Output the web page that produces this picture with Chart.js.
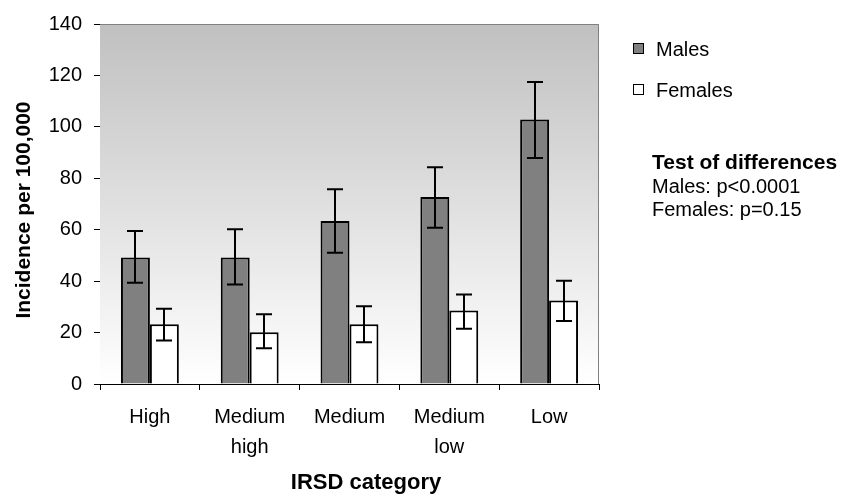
<!DOCTYPE html>
<html>
<head>
<meta charset="utf-8">
<script src="https://cdn.jsdelivr.net/npm/chart.js@4/dist/chart.umd.min.js"></script>
<style>
  body { margin: 0; background: #fff; font-family: "Liberation Sans", Arial, sans-serif; }
  #wrap { position: relative; width: 841px; height: 498px; }
  .txt { position: absolute; color: #000; white-space: nowrap; font-size: 20px; line-height: 24px; }
  .bold { font-weight: bold; font-size: 21px; }
  .sq { position: absolute; width: 9px; height: 9px; border: 1.5px solid #000; }
</style>
</head>
<body>
<div id="wrap">
  <canvas id="chart" width="841" height="498"></canvas>

  <div class="txt bold" style="left:-127px; top:198px; width:300px; text-align:center; transform:rotate(-90deg);">Incidence per 100,000</div>
  <div class="txt bold" style="left:216px; top:470px; width:300px; text-align:center; font-size:22px;">IRSD category</div>

  <div class="sq" style="left:633px; top:43px; background:#808080;"></div>
  <div class="txt" style="left:656px; top:37px;">Males</div>
  <div class="sq" style="left:633px; top:84px; background:#fff;"></div>
  <div class="txt" style="left:656px; top:78px;">Females</div>

  <div class="txt bold" style="left:652px; top:150px;">Test of differences</div>
  <div class="txt" style="left:652px; top:174px;">Males: p&lt;0.0001</div>
  <div class="txt" style="left:652px; top:197px;">Females: p=0.15</div>
</div>

<script>
// ------------------------
// Data
// ------------------------
const categories = [["High"], ["Medium", "high"], ["Medium"], ["Medium", "low"], ["Low"]];
const males = [49.2, 49.2, 63.4, 72.7, 102.9];
const malesLow = [39.4, 38.7, 51.0, 60.8, 87.9];
const malesHigh = [59.5, 60.2, 75.7, 84.3, 117.4];
const females = [23.2, 20.1, 23.2, 28.6, 32.5];
const femalesLow = [16.9, 13.9, 16.2, 21.5, 24.5];
const femalesHigh = [29.3, 27.1, 30.2, 34.8, 40.2];
const yTicks = [0, 20, 40, 60, 80, 100, 120, 140];

const errors = [
    { low: malesLow, high: malesHigh },
    { low: femalesLow, high: femalesHigh },
];

Chart.defaults.font.family = '"Liberation Sans", Arial, sans-serif';
Chart.defaults.color = "#000";

// grey-to-white plot background with thin grey frame
const plotBackground = {
    id: "plotBackground",
    beforeDatasetsDraw(chart) {
        const { ctx, chartArea: a } = chart;
        const grad = ctx.createLinearGradient(0, a.top, 0, a.bottom);
        grad.addColorStop(0, "#c0c0c0");
        grad.addColorStop(1, "#ffffff");
        ctx.save();
        ctx.fillStyle = grad;
        ctx.fillRect(a.left, a.top, a.right - a.left, a.bottom - a.top);
        ctx.strokeStyle = "#808080";
        ctx.lineWidth = 1;
        ctx.beginPath();
        ctx.moveTo(a.left, a.top + 0.5);
        ctx.lineTo(a.right - 0.5, a.top + 0.5);
        ctx.lineTo(a.right - 0.5, a.bottom);
        ctx.stroke();
        ctx.restore();
    }
};

// error bars drawn on top of each bar
const errorBars = {
    id: "errorBars",
    afterDatasetsDraw(chart) {
        const { ctx } = chart;
        const y = chart.scales.y;
        ctx.save();
        ctx.strokeStyle = "#000";
        ctx.lineWidth = 2;
        errors.forEach((err, di) => {
            const meta = chart.getDatasetMeta(di);
            meta.data.forEach((bar, i) => {
                const yl = y.getPixelForValue(err.low[i]);
                const yh = y.getPixelForValue(err.high[i]);
                const x = Math.round(bar.x);
                const cap = 8;
                ctx.beginPath();
                ctx.moveTo(x, yh);
                ctx.lineTo(x, yl);
                ctx.moveTo(x - cap, yh);
                ctx.lineTo(x + cap, yh);
                ctx.moveTo(x - cap, yl);
                ctx.lineTo(x + cap, yl);
                ctx.stroke();
            });
        });
        ctx.restore();
    }
};

new Chart(document.getElementById("chart"), {
    type: "bar",
    data: {
        labels: categories,
        datasets: [
            { label: "Males", data: males, backgroundColor: "#808080", borderColor: "#000", borderWidth: 2 },
            { label: "Females", data: females, backgroundColor: "#ffffff", borderColor: "#000", borderWidth: 2 },
        ]
    },
    options: {
        responsive: false,
        animation: false,
        layout: { padding: { top: 22, right: 242, left: 0, bottom: 0 } },
        datasets: { bar: { categoryPercentage: 0.58, barPercentage: 1.0 } },
        plugins: { legend: { display: false }, tooltip: { enabled: false } },
        scales: {
            x: {
                grid: { offset: true, drawOnChartArea: false, tickLength: 6, color: "#000" },
                border: { color: "#000", width: 1 },
                ticks: { font: { size: 20, lineHeight: 1.5 }, padding: 12, maxRotation: 0 },
                afterFit(scale) { scale.height = 114; }
            },
            y: {
                min: 0,
                max: 140,
                afterBuildTicks(scale) { scale.ticks = yTicks.map(v => ({ value: v })); },
                grid: { drawOnChartArea: false, tickLength: 6, color: "#000" },
                border: { color: "#000", width: 1 },
                ticks: { font: { size: 20 }, padding: 12 },
                afterFit(scale) { scale.width = 100; }
            }
        }
    },
    plugins: [plotBackground, errorBars]
});
</script>
</body>
</html>
